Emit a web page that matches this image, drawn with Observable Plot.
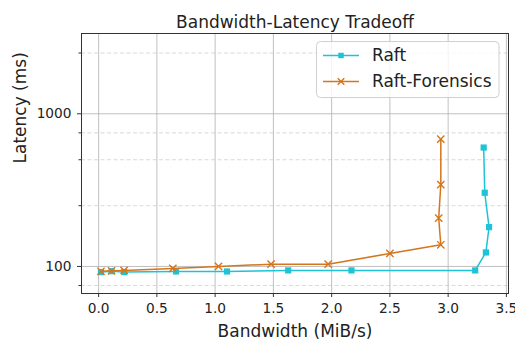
<!DOCTYPE html>
<html>
<head>
<meta charset="utf-8">
<script src="https://cdn.jsdelivr.net/npm/d3@7"></script>
<script src="https://cdn.jsdelivr.net/npm/@observablehq/plot@0.6"></script>
<style>
  html, body { margin: 0; padding: 0; background: #fff; }
  #chart { width: 515px; height: 340px; }
</style>
</head>
<body>
<div id="chart"></div>
<script>
// ---- data ----
const title = "Bandwidth-Latency Tradeoff";
const xLabel = "Bandwidth (MiB/s)";
const yLabel = "Latency (ms)";
const seriesNames = ["Raft", "Raft-Forensics"];

const raftBandwidth = [0.02, 0.111, 0.22, 0.665, 1.102, 1.627, 2.17, 3.232, 3.324, 3.351, 3.314, 3.305];
const raftLatency   = [91.8, 93.1, 91.8, 92.7, 92.7, 94.2, 94.2, 94.2, 123.5, 181, 304, 601];

const forensicsBandwidth = [0.02, 0.111, 0.219, 0.637, 1.029, 1.48, 1.97, 2.5, 2.937, 2.919, 2.937, 2.937];
const forensicsLatency   = [93, 93.7, 94.2, 97, 100, 103.5, 103.5, 121.7, 138.7, 207, 344, 682];

const xTicks = [0, 0.5, 1.0, 1.5, 2.0, 2.5, 3.0, 3.5];
const yMajorTicks = [100, 1000];
const yMinorTicks = [75, 250, 500, 750, 2500];
const xDomain = [-0.147, 3.518];
const yDomain = [66.5, 3357];

// ---- styles ----
const colors = {"Raft": "#1fc3d6", "Raft-Forensics": "#d5751c"};
const symbols = {"Raft": "square", "Raft-Forensics": "times"};
const font = "DejaVu Sans, sans-serif";
const textColor = "#222";

const raft = raftBandwidth.map((x, i) => ({x, y: raftLatency[i], s: seriesNames[0]}));
const forensics = forensicsBandwidth.map((x, i) => ({x, y: forensicsLatency[i], s: seriesNames[1]}));

const svg = Plot.plot({
  width: 515,
  height: 340,
  marginLeft: 81,
  marginRight: 7,
  marginTop: 33,
  marginBottom: 47,
  style: {fontFamily: font, fontSize: "13.7px", color: textColor, background: "#fff"},
  x: {domain: xDomain},
  y: {type: "log", domain: yDomain},
  marks: [
    Plot.gridY(yMinorTicks, {stroke: "#cfcfcf", strokeOpacity: 1, strokeWidth: 0.8, strokeDasharray: "4,2.5"}),
    Plot.gridX(xTicks, {stroke: "#b0b0b0", strokeOpacity: 1, strokeWidth: 0.8}),
    Plot.gridY(yMajorTicks, {stroke: "#b0b0b0", strokeOpacity: 1, strokeWidth: 0.8}),
    Plot.axisX(xTicks, {tickSize: 4, tickPadding: 6, tickFormat: d3.format(".1f"), label: null, stroke: "#333", fill: textColor}),
    Plot.axisY(yMajorTicks, {tickSize: 4, tickPadding: 6, tickFormat: d3.format("d"), label: null, stroke: "#333", fill: textColor}),
    Plot.axisY(yMinorTicks, {tickSize: 2.5, text: null, label: null, stroke: "#333"}),
    Plot.line(raft, {x: "x", y: "y", stroke: colors["Raft"], strokeWidth: 1.5}),
    Plot.dot(raft, {x: "x", y: "y", symbol: symbols["Raft"], fill: colors["Raft"], stroke: "none", r: 3.5}),
    Plot.line(forensics, {x: "x", y: "y", stroke: colors["Raft-Forensics"], strokeWidth: 1.5}),
    Plot.dot(forensics, {x: "x", y: "y", symbol: symbols["Raft-Forensics"], stroke: colors["Raft-Forensics"], strokeWidth: 1.4, r: 3.4}),
    Plot.frame({stroke: "#333", strokeWidth: 1}),
    Plot.text([title], {frameAnchor: "top", dy: -11.4, lineAnchor: "middle", fontSize: 17, fill: textColor}),
    Plot.text([xLabel], {frameAnchor: "bottom", dy: 37.8, lineAnchor: "middle", fontSize: 17, fill: textColor}),
    Plot.text([yLabel], {frameAnchor: "left", dx: -61, rotate: -90, lineAnchor: "middle", fontSize: 17, fill: textColor})
  ]
});

// ---- legend (upper right, inside the frame) ----
const lg = d3.select(svg).append("g")
  .attr("font-family", font).attr("text-anchor", "start");
lg.append("rect")
  .attr("x", 316.5).attr("y", 41.5).attr("width", 182.5).attr("height", 56)
  .attr("rx", 4).attr("fill", "#fff").attr("fill-opacity", 0.8)
  .attr("stroke", "#d0d0d0").attr("stroke-width", 1);
seriesNames.forEach((name, i) => {
  const cy = 55.5 + i * 26;
  lg.append("line").attr("x1", 323).attr("x2", 359).attr("y1", cy).attr("y2", cy)
    .attr("stroke", colors[name]).attr("stroke-width", 1.5);
  const sym = name === "Raft" ? d3.symbolSquare : d3.symbolTimes;
  const p = lg.append("path").attr("transform", `translate(341,${cy})`)
    .attr("d", d3.symbol(sym, 30)());
  if (name === "Raft") p.attr("fill", colors[name]);
  else p.attr("fill", "none").attr("stroke", colors[name]).attr("stroke-width", 1.4);
  lg.append("text").attr("x", 372).attr("y", cy).attr("dy", "0.35em")
    .attr("text-anchor", "start")
    .attr("font-size", 17).attr("fill", textColor).text(name);
});

document.getElementById("chart").appendChild(svg);
</script>
</body>
</html>
